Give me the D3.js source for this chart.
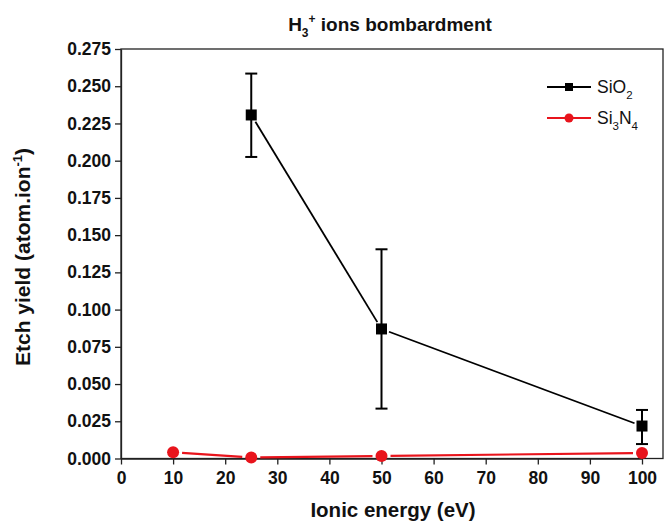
<!DOCTYPE html>
<html>
<head>
<meta charset="utf-8">
<script src="https://cdn.jsdelivr.net/npm/d3@7"></script>
<style>
  body { margin: 0; background: #fff; }
  text { font-family: "Liberation Sans", Arial, sans-serif; }
</style>
</head>
<body>
<div id="chart"></div>
<script>
/* DATA */
const sio2Energy = [25, 50, 100];
const sio2Yield = [0.2307, 0.087, 0.0218];
const sio2ErrLow = [0.2025, 0.0335, 0.0097];
const sio2ErrHigh = [0.2585, 0.1405, 0.0326];

const si3n4Energy = [10, 25, 50, 100];
const si3n4Yield = [0.0042, 0.0007, 0.0017, 0.0037];

const xTicks = [0, 10, 20, 30, 40, 50, 60, 70, 80, 90, 100];
const yTicks = [0, 0.025, 0.05, 0.075, 0.1, 0.125, 0.15, 0.175, 0.2, 0.225, 0.25, 0.275];

/* CONSTANTS */
const width = 665, height = 527;
const margin = { top: 49, bottom: 68, left: 121, right: 2 };

const svg = d3.select("#chart").append("svg")
  .attr("width", width)
  .attr("height", height);

const xScale = d3.scaleLinear()
  .domain([0, 100])
  .range([margin.left, 642]);

const yScale = d3.scaleLinear()
  .domain([0, 0.275])
  .range([height - margin.bottom - 0.5, margin.top]);

// frame
svg.append("rect")
  .attr("x", margin.left)
  .attr("y", margin.top)
  .attr("width", width - margin.right - margin.left)
  .attr("height", yScale(0) - margin.top)
  .attr("fill", "none")
  .attr("stroke", "#222")
  .attr("stroke-width", 1.3);

// axes
const xAxis = d3.axisBottom(xScale).tickValues(xTicks).tickSize(6).tickSizeOuter(0).tickFormat(d3.format("d"));
const yAxis = d3.axisLeft(yScale).tickValues(yTicks).tickSize(6).tickSizeOuter(0).tickFormat(d3.format(".3f"));

const gx = svg.append("g")
  .attr("transform", `translate(0, ${yScale(0)})`)
  .call(xAxis);
const gy = svg.append("g")
  .attr("transform", `translate(${margin.left}, 0)`)
  .call(yAxis);

[gx, gy].forEach(g => {
  g.select(".domain").attr("stroke", "#222").attr("stroke-width", 1.3);
  g.selectAll(".tick line").attr("stroke", "#222").attr("stroke-width", 1.3);
  g.selectAll(".tick text")
    .attr("fill", "#111")
    .style("font-size", "17.5px")
    .style("font-weight", "bold")
    .style("font-family", "'Liberation Sans', Arial, sans-serif");
});
gx.selectAll(".tick text").attr("dy", "0.95em");
gy.selectAll(".tick text").attr("x", -10);

// titles
const title = svg.append("text")
  .attr("x", 390)
  .attr("y", 31)
  .attr("text-anchor", "middle")
  .style("font-size", "19px")
  .style("font-weight", "bold")
  .attr("fill", "#111");
title.append("tspan").text("H");
title.append("tspan").attr("dy", 6).style("font-size", "12px").text("3");
title.append("tspan").attr("dy", -14).style("font-size", "12px").text("+");
title.append("tspan").attr("dy", 8).text(" ions bombardment");

svg.append("text")
  .attr("x", 393)
  .attr("y", 517)
  .attr("text-anchor", "middle")
  .style("font-size", "20.5px")
  .style("font-weight", "bold")
  .attr("fill", "#111")
  .text("Ionic energy (eV)");

const ytitle = svg.append("text")
  .attr("transform", "translate(30, 257) rotate(-90)")
  .attr("text-anchor", "middle")
  .style("font-size", "21px")
  .style("font-weight", "bold")
  .attr("fill", "#111");
ytitle.append("tspan").text("Etch yield (atom.ion");
ytitle.append("tspan").attr("dy", -8).style("font-size", "13px").text("-1");
ytitle.append("tspan").attr("dy", 8).text(")");

// line segments with small gaps around symbols
function drawSegments(xs, ys, color, width, gap) {
  for (let i = 0; i < xs.length - 1; i++) {
    const x1 = xScale(xs[i]), y1 = yScale(ys[i]);
    const x2 = xScale(xs[i + 1]), y2 = yScale(ys[i + 1]);
    const len = Math.hypot(x2 - x1, y2 - y1);
    const ux = (x2 - x1) / len, uy = (y2 - y1) / len;
    svg.append("line")
      .attr("x1", x1 + ux * gap).attr("y1", y1 + uy * gap)
      .attr("x2", x2 - ux * gap).attr("y2", y2 - uy * gap)
      .attr("stroke", color)
      .attr("stroke-width", width);
  }
}

drawSegments(si3n4Energy, si3n4Yield, "#e8141c", 2.2, 9);
drawSegments(sio2Energy, sio2Yield, "#000", 1.8, 8);

// error bars SiO2
const errG = svg.append("g");
sio2Energy.forEach((e, i) => {
  const x = xScale(e);
  errG.append("line")
    .attr("x1", x).attr("x2", x)
    .attr("y1", yScale(sio2ErrLow[i])).attr("y2", yScale(sio2ErrHigh[i]))
    .attr("stroke", "#000").attr("stroke-width", 2);
  [sio2ErrLow[i], sio2ErrHigh[i]].forEach(v => {
    errG.append("line")
      .attr("x1", x - 6).attr("x2", x + 6)
      .attr("y1", yScale(v)).attr("y2", yScale(v))
      .attr("stroke", "#000").attr("stroke-width", 2);
  });
});

// markers
svg.selectAll("rect.sio2")
  .data(sio2Energy.map((e, i) => ({ e, v: sio2Yield[i] })))
  .join("rect")
  .attr("class", "sio2")
  .attr("x", d => xScale(d.e) - 5.5)
  .attr("y", d => yScale(d.v) - 5.5)
  .attr("width", 11)
  .attr("height", 11)
  .attr("fill", "#000");

svg.selectAll("circle.si3n4")
  .data(si3n4Energy.map((e, i) => ({ e, v: si3n4Yield[i] })))
  .join("circle")
  .attr("class", "si3n4")
  .attr("cx", d => xScale(d.e))
  .attr("cy", d => yScale(d.v))
  .attr("r", 6)
  .attr("fill", "#e8141c");

// legend
const legend = svg.append("g");
const legendRows = [
  { y: 87, color: "#000", shape: "square", name: "SiO", sub: "2" },
  { y: 118, color: "#e8141c", shape: "circle", name: "Si", sub: "3", name2: "N", sub2: "4" }
];
legendRows.forEach(r => {
  legend.append("line")
    .attr("x1", 547).attr("x2", 591).attr("y1", r.y).attr("y2", r.y)
    .attr("stroke", r.color).attr("stroke-width", 1.8);
  if (r.shape === "square") {
    legend.append("rect").attr("x", 565).attr("y", r.y - 4).attr("width", 8).attr("height", 8).attr("fill", r.color);
  } else {
    legend.append("circle").attr("cx", 569).attr("cy", r.y).attr("r", 4.5).attr("fill", r.color);
  }
  const t = legend.append("text")
    .attr("x", 597).attr("y", r.y + 6)
    .style("font-size", "17.5px")
    .attr("fill", "#111");
  t.append("tspan").text(r.name);
  t.append("tspan").attr("dy", 6).style("font-size", "11.5px").text(r.sub);
  if (r.name2) {
    t.append("tspan").attr("dy", -6).text(r.name2);
    t.append("tspan").attr("dy", 6).style("font-size", "11.5px").text(r.sub2);
  }
});
</script>
</body>
</html>
